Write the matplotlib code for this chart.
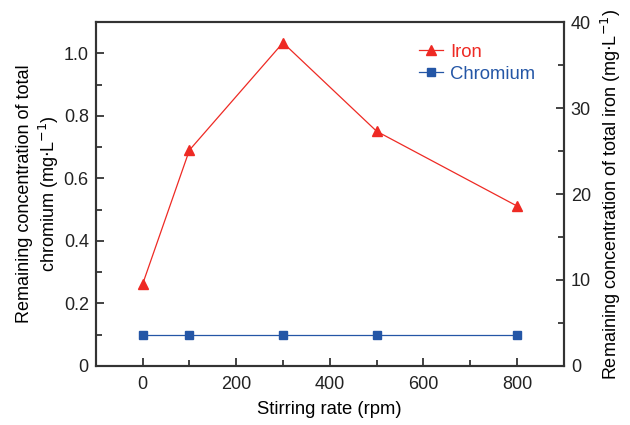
import numpy as np
import matplotlib.pyplot as plt
from matplotlib.ticker import MultipleLocator

plt.rcParams['font.family'] = ['Liberation Sans', 'DejaVu Sans']

stirring_rate = [0, 100, 300, 500, 800]
iron = [9.5, 25.1, 37.6, 27.3, 18.6]          # mg/L, right axis
chromium = [0.1, 0.1, 0.1, 0.1, 0.1]          # mg/L, left axis

RED = '#ee2a24'
BLUE = '#2456a6'

fig = plt.figure(figsize=(6.3, 4.25), dpi=100)
ax = fig.add_axes([0.152, 0.139, 0.743, 0.809])
ax2 = ax.twinx()

l_cr, = ax.plot(stirring_rate, chromium, color=BLUE, lw=0.9, marker='s',
                ms=6, label='Chromium')
l_fe, = ax2.plot(stirring_rate, iron, color=RED, lw=0.9, marker='^',
                 ms=7, label='Iron')

ax.set_xlim(-100, 900)
ax.set_ylim(0, 1.1)
ax2.set_ylim(0, 40)

ax.xaxis.set_major_locator(MultipleLocator(200))
ax.xaxis.set_minor_locator(MultipleLocator(100))
ax.yaxis.set_minor_locator(MultipleLocator(0.1))
ax2.yaxis.set_major_locator(MultipleLocator(10))
ax2.yaxis.set_minor_locator(MultipleLocator(5))
ax.set_yticks(np.arange(0, 1.01, 0.2))
ax.set_yticklabels(['0', '0.2', '0.4', '0.6', '0.8', '1.0'])

for a in (ax, ax2):
    a.tick_params(which='both', direction='in', colors='#222222', width=1.2,
                  top=False, labelsize=13, pad=5)
    a.tick_params(which='major', length=6)
    a.tick_params(which='minor', length=4)
    for s in a.spines.values():
        s.set_linewidth(1.5)
        s.set_color('#333333')
ax.tick_params(axis='y', right=False, which='both')
ax2.tick_params(axis='y', left=False, which='both')
ax.tick_params(axis='x', pad=7)

ax.set_xlabel('Stirring rate (rpm)', fontsize=13.3, labelpad=6)
ax.set_ylabel('Remaining concentration of total\nchromium (mg$\\cdot$L$^{-1}$)',
              fontsize=13, labelpad=2)
ax2.set_ylabel('Remaining concentration of total iron (mg$\\cdot$L$^{-1}$)',
               fontsize=13, labelpad=6)

leg = ax.legend([l_fe, l_cr], ['Iron', 'Chromium'], loc='upper left',
                bbox_to_anchor=(0.655, 0.985), frameon=False, handlelength=1.3,
                handletextpad=0.4, labelspacing=0.25, fontsize=13.3)
for txt, c in zip(leg.get_texts(), (RED, BLUE)):
    txt.set_color(c)

fig.savefig('out.png', dpi=100)
